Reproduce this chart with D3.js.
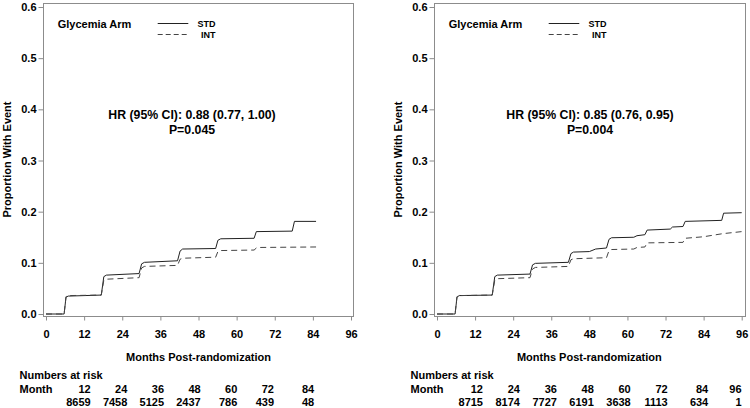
<!DOCTYPE html>
<html>
<head>
<meta charset="utf-8">
<script src="https://cdn.jsdelivr.net/npm/d3@7"></script>
<style>
  html, body { margin: 0; padding: 0; background: #fff; }
  svg { display: block; font-family: "Liberation Sans", Arial, sans-serif; font-weight: bold; }
</style>
</head>
<body>
<svg id="chart" width="750" height="408"></svg>
<script>
// ---------- DATA ----------
const xTicks = [0, 12, 24, 36, 48, 60, 72, 84, 96];
const yTicks = [0.0, 0.1, 0.2, 0.3, 0.4, 0.5, 0.6];

// Left panel
const leftStdMonths = [0, 5.7, 6.3, 7, 17.4, 18.2, 19, 29.3, 30.1, 31, 41.4, 42.2, 43, 53.4, 54.1, 55, 65.5, 66.2, 77.5, 78.2, 85];
const leftStdValues = [0, 0, 0.033, 0.035, 0.037, 0.073, 0.076, 0.079, 0.098, 0.101, 0.104, 0.123, 0.127, 0.128, 0.144, 0.147, 0.148, 0.161, 0.162, 0.181, 0.181];
const leftIntMonths = [0, 5.7, 6.3, 7, 17.4, 18.2, 19, 29.3, 30.1, 31, 41.4, 42.2, 43, 53.4, 54.1, 55, 65.5, 66.4, 85];
const leftIntValues = [0, 0, 0.034, 0.036, 0.037, 0.066, 0.068, 0.071, 0.090, 0.093, 0.095, 0.107, 0.109, 0.111, 0.122, 0.124, 0.125, 0.130, 0.131];
const leftRiskMonths = ["12", "24", "36", "48", "60", "72", "84"];
const leftRiskCounts = ["8659", "7458", "5125", "2437", "786", "439", "48"];
const leftHR = "HR (95% CI): 0.88 (0.77, 1.00)";
const leftP = "P=0.045";

// Right panel
const rightStdMonths = [0, 5.7, 6.3, 7, 17.4, 18.2, 19, 29.3, 30.1, 31, 41.4, 42.2, 43, 48, 50, 53.4, 54.2, 55, 62, 63, 65.5, 66.2, 73.5, 74.2, 77.5, 78.2, 89.7, 90.3, 96];
const rightStdValues = [0, 0, 0.033, 0.036, 0.037, 0.073, 0.076, 0.078, 0.096, 0.099, 0.101, 0.118, 0.121, 0.122, 0.127, 0.129, 0.146, 0.149, 0.150, 0.153, 0.155, 0.164, 0.166, 0.170, 0.171, 0.181, 0.183, 0.197, 0.198];
const rightIntMonths = [0, 5.7, 6.3, 7, 17.4, 18.2, 19, 29.3, 30.1, 31, 41.4, 42.2, 43, 53.4, 54.2, 55, 62, 63, 65.5, 66.2, 77.5, 78.2, 84, 90, 96];
const rightIntValues = [0, 0, 0.034, 0.036, 0.037, 0.066, 0.069, 0.071, 0.088, 0.091, 0.093, 0.106, 0.108, 0.110, 0.124, 0.126, 0.127, 0.130, 0.131, 0.139, 0.140, 0.148, 0.151, 0.157, 0.161];
const rightRiskMonths = ["12", "24", "36", "48", "60", "72", "84", "96"];
const rightRiskCounts = ["8715", "8174", "7727", "6191", "3638", "1113", "634", "1"];
const rightHR = "HR (95% CI): 0.85 (0.76, 0.95)";
const rightP = "P=0.004";

const seriesNames = ["STD", "INT"];
const legendTitle = "Glycemia Arm";
const yLabel = "Proportion With Event";
const xLabel = "Months Post-randomization";

// ---------- DRAW ----------
const svg = d3.select("#chart");
const frameColor = "#8c8c8c";

function zip(ms, vs) { return ms.map((m, i) => ({ m: m, v: vs[i] })); }

const panels = [
  { fx0: 43, fx1: 353, xr: [46, 351], hrX: 192,
    std: zip(leftStdMonths, leftStdValues), int: zip(leftIntMonths, leftIntValues),
    riskM: leftRiskMonths, riskC: leftRiskCounts, riskR: [90.7, 274], hr: leftHR, p: leftP },
  { fx0: 434, fx1: 745, xr: [437, 741.7], hrX: 590,
    std: zip(rightStdMonths, rightStdValues), int: zip(rightIntMonths, rightIntValues),
    riskM: rightRiskMonths, riskC: rightRiskCounts, riskR: [483, 667.7], hr: rightHR, p: rightP }
];

const fy0 = 3, fy1 = 316;

panels.forEach(P => {
  const g = svg.append("g");
  const x = d3.scaleLinear().domain([0, 96]).range(P.xr);
  const y = d3.scaleLinear().domain([0, 0.6]).range([314, 7]);

  // frame
  g.append("rect").attr("x", P.fx0 + 0.5).attr("y", fy0 + 0.5)
    .attr("width", P.fx1 - P.fx0).attr("height", fy1 - fy0)
    .attr("fill", "none").attr("stroke", frameColor).attr("stroke-width", 1);

  // y axis
  const ya = g.append("g").attr("transform", `translate(${P.fx0 + 0.5},0)`)
    .call(d3.axisLeft(y).tickValues(yTicks).tickFormat(d3.format(".1f")).tickSize(5).tickPadding(2));
  ya.select(".domain").remove();
  ya.selectAll(".tick line").attr("stroke", frameColor);
  ya.selectAll(".tick text").attr("fill", "#000").style("font-size", "11px")
    .style("font-family", '"Liberation Sans", Arial, sans-serif').style("font-weight", "bold");

  // x axis
  const xa = g.append("g").attr("transform", `translate(0,${fy1 + 0.5})`)
    .call(d3.axisBottom(x).tickValues(xTicks).tickFormat(d3.format("d")).tickSize(4).tickPadding(10));
  xa.select(".domain").remove();
  xa.selectAll(".tick line").attr("stroke", frameColor);
  xa.selectAll(".tick text").attr("fill", "#000").style("font-size", "11px")
    .style("font-family", '"Liberation Sans", Arial, sans-serif').style("font-weight", "bold");

  // axis labels
  g.append("text").attr("transform", `translate(${P.fx0 - 32},${(fy0 + fy1) / 2}) rotate(-90)`)
    .attr("text-anchor", "middle").style("font-size", "11px").text(yLabel);
  g.append("text").attr("x", (P.xr[0] + P.xr[1]) / 2).attr("y", 361)
    .attr("text-anchor", "middle").style("font-size", "11px").text(xLabel);

  // curves
  const line = d3.line().x(d => x(d.m)).y(d => y(d.v));
  g.append("path").datum(P.std).attr("d", line).attr("fill", "none")
    .attr("stroke", "#222").attr("stroke-width", 1);
  g.append("path").datum(P.int).attr("d", line).attr("fill", "none")
    .attr("stroke", "#444").attr("stroke-width", 1).attr("stroke-dasharray", "6,4");

  // legend
  const lx = P.fx0 + 14.7;
  g.append("text").attr("x", lx).attr("y", 27.5).style("font-size", "11px").text(legendTitle);
  const l0 = P.fx0 + 114.7, l1 = P.fx0 + 145.3, tr = P.fx0 + 172.5;
  g.append("line").attr("x1", l0).attr("x2", l1).attr("y1", 23.5).attr("y2", 23.5)
    .attr("stroke", "#222").attr("stroke-width", 1);
  g.append("line").attr("x1", l0).attr("x2", l1).attr("y1", 34.5).attr("y2", 34.5)
    .attr("stroke", "#444").attr("stroke-width", 1).attr("stroke-dasharray", "5,3");
  g.append("text").attr("x", tr).attr("y", 26.8).attr("text-anchor", "end").style("font-size", "9px").text(seriesNames[0]);
  g.append("text").attr("x", tr).attr("y", 37.8).attr("text-anchor", "end").style("font-size", "9px").text(seriesNames[1]);

  // HR text
  g.append("text").attr("x", P.hrX).attr("y", 119).attr("text-anchor", "middle").style("font-size", "12.3px").text(P.hr);
  g.append("text").attr("x", P.hrX).attr("y", 133.5).attr("text-anchor", "middle").style("font-size", "12.3px").text(P.p);

  // numbers at risk
  const rx = P.fx0 - 23.5;
  g.append("text").attr("x", rx).attr("y", 379).style("font-size", "11px").text("Numbers at risk");
  g.append("text").attr("x", rx).attr("y", 392.5).style("font-size", "11px").text("Month");
  const colX = d3.scaleLinear().domain([12, 72]).range(P.riskR);
  const colPos = m => colX(+m) + (+m === 84 ? 3.6 : 0);
  g.selectAll(".rm").data(P.riskM).enter().append("text")
    .attr("x", d => colPos(d)).attr("y", 392.5).attr("text-anchor", "end").style("font-size", "11px").text(d => d);
  g.selectAll(".rc").data(P.riskC).enter().append("text")
    .attr("x", (d, i) => colPos(P.riskM[i])).attr("y", 406).attr("text-anchor", "end").style("font-size", "11px").text(d => d);
});
</script>
</body>
</html>
